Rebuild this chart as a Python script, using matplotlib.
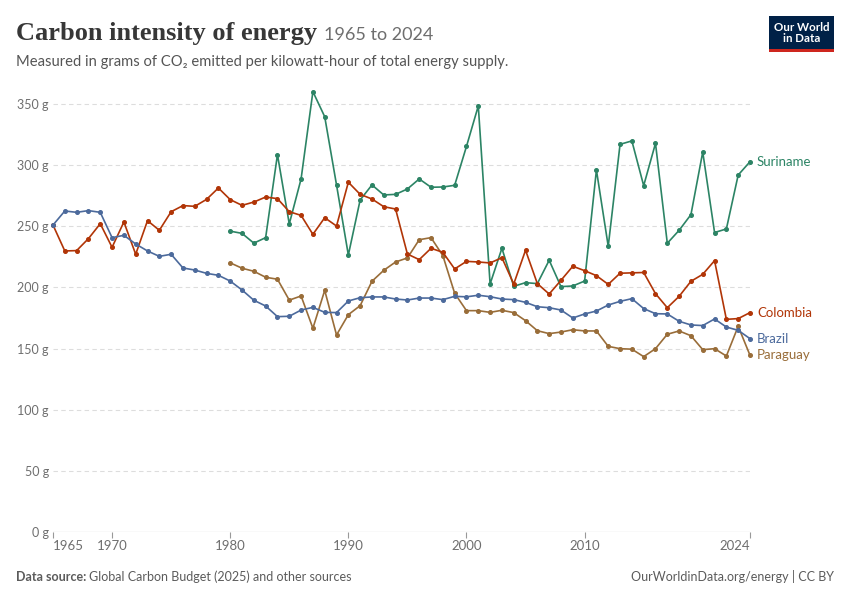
import numpy as np
import matplotlib.pyplot as plt
from matplotlib.patches import Rectangle

plt.rcParams['font.family'] = ['Lato', 'DejaVu Sans']

years_long = np.arange(1965, 2025)
years_short = np.arange(1980, 2025)

brazil = [251.0, 262.5, 261.4, 262.8, 261.4, 240.7, 242.6, 235.5, 229.8, 225.4,
          227.1, 215.9, 214.2, 211.5, 209.9, 205.2, 197.9, 189.5, 184.8, 176.1,
          176.4, 181.5, 183.7, 179.6, 179.4, 188.9, 191.6, 192.2, 192.2, 190.5,
          189.7, 191.3, 191.3, 190.0, 192.7, 192.3, 193.6, 192.4, 190.5, 190.0,
          187.8, 184.2, 183.4, 181.5, 175.0, 178.3, 180.7, 185.6, 188.6, 190.8,
          182.7, 178.5, 178.3, 172.3, 169.3, 168.8, 174.2, 167.6, 164.9, 158.1]

colombia = [251.0, 229.8, 230.1, 239.9, 252.1, 232.8, 253.5, 227.1, 254.6, 246.7,
            261.9, 266.9, 266.3, 272.0, 281.3, 271.8, 267.1, 269.8, 273.9, 272.6,
            261.9, 258.9, 243.4, 257.0, 250.2, 286.0, 276.1, 272.3, 266.0, 264.1,
            227.3, 222.7, 232.0, 228.7, 215.1, 221.3, 220.8, 220.0, 224.3, 202.8,
            230.4, 203.1, 194.6, 205.8, 217.3, 213.7, 209.6, 202.5, 211.6, 211.9,
            212.2, 194.9, 183.4, 192.7, 205.0, 210.7, 221.9, 173.9, 174.5, 179.4]

suriname = [246.0, 244.2, 236.2, 240.7, 308.6, 251.9, 288.7, 360.1, 339.6, 283.8,
            226.5, 271.5, 283.8, 275.6, 276.1, 280.5, 288.7, 281.9, 282.1, 283.5,
            315.3, 348.4, 202.8, 232.0, 200.9, 203.9, 203.1, 222.2, 200.6, 201.2,
            205.2, 296.0, 233.6, 317.0, 319.8, 283.2, 317.8, 236.1, 246.7, 259.5,
            310.7, 244.9, 247.8, 291.9, 302.8]

paraguay = [220.1, 215.7, 213.2, 208.3, 206.7, 189.6, 193.0, 166.6, 197.6, 161.1,
            177.7, 185.1, 205.0, 214.0, 220.8, 224.1, 239.0, 240.7, 226.0, 195.2,
            181.0, 181.0, 179.6, 181.3, 179.4, 172.8, 164.6, 162.2, 163.5, 165.4,
            164.4, 164.4, 151.8, 149.9, 149.5, 143.4, 149.9, 161.7, 164.4, 160.5,
            149.1, 149.9, 143.9, 168.2, 144.5]

series = [
    ("Suriname", years_short, suriname, "#2C8465"),
    ("Paraguay", years_short, paraguay, "#996D39"),
    ("Colombia", years_long, colombia, "#B13507"),
    ("Brazil", years_long, brazil, "#4C6A9C"),
]

x_ticks = [1965, 1970, 1980, 1990, 2000, 2010, 2024]
y_ticks = [0, 50, 100, 150, 200, 250, 300, 350]

W, H = 850, 600
fig = plt.figure(figsize=(8.5, 6), dpi=100)
ymax = 362
ax = fig.add_axes([53 / W, (H - 532) / H, 697 / W, (532 - 89.3) / H])
ax.set_xlim(1965, 2024)
ax.set_ylim(0, ymax)

for name, xs, ys, col in series:
    ax.plot(xs, ys, color=col, lw=1.2, marker='o', ms=2.6, clip_on=False, zorder=3)

for v in y_ticks[1:]:
    ax.axhline(v, color='#dddddd', lw=0.8, ls=(0, (4, 3)), zorder=1)
ax.axhline(0, color='#999999', lw=0.8, zorder=2)

for s in ax.spines.values():
    s.set_visible(False)
ax.set_yticks(y_ticks)
ax.set_yticklabels([f"{v} g" for v in y_ticks])
ax.tick_params(axis='y', length=0, pad=3, labelsize=9, labelcolor='#6e6e6e')
ax.set_xticks(x_ticks)
ax.set_xticklabels([str(t) for t in x_ticks])
ax.tick_params(axis='x', length=4, width=0.8, color='#999999', pad=2,
               labelsize=9.5, labelcolor='#6e6e6e')
xl = ax.get_xticklabels()
xl[0].set_ha('left')
xl[-1].set_ha('right')

# end labels
end_pos = {"Suriname": 302.8, "Colombia": 179.4, "Brazil": 158.0, "Paraguay": 144.5}
for name, xs, ys, col in series:
    ax.annotate(name, xy=(2024, end_pos[name]), xytext=(5, 0), textcoords='offset points',
                color=col, fontsize=9.5, va='center', ha='left', annotation_clip=False)

# title
t1 = fig.text(16 / W, 1 - 40 / H, "Carbon intensity of energy", fontsize=19,
              fontweight='bold', color='#373737', family=['Liberation Serif', 'DejaVu Serif'])
fig.canvas.draw()
bb = t1.get_window_extent()
fig.text((bb.x1 + 7) / W, 1 - 40 / H, "1965 to 2024", fontsize=13, color='#6e6e6e')
fig.text(16 / W, 1 - 66 / H,
         "Measured in grams of CO\u2082 emitted per kilowatt-hour of total energy supply.",
         fontsize=10.65, color='#555555')

# logo
fig.patches.append(Rectangle((769 / W, 1 - 52 / H), 65 / W, 36 / H, transform=fig.transFigure,
                             facecolor='#002147', edgecolor='none'))
fig.patches.append(Rectangle((769 / W, 1 - 52 / H), 65 / W, 3 / H, transform=fig.transFigure,
                             facecolor='#CE261E', edgecolor='none'))
fig.text(801.5 / W, 1 - 33 / H, "Our World\nin Data", ha='center', va='center',
         fontsize=8.3, color='white', linespacing=1.0, fontweight='bold')

# footer
f1 = fig.text(16 / W, 1 - 581 / H, "Data source:", fontsize=9, fontweight='bold', color='#5b5b5b')
fig.canvas.draw()
bb = f1.get_window_extent()
fig.text((bb.x1 + 3) / W, 1 - 581 / H, "Global Carbon Budget (2025) and other sources",
         fontsize=9, color='#5b5b5b')
fig.text(834 / W, 1 - 581 / H, "OurWorldinData.org/energy | CC BY", fontsize=9,
         color='#5b5b5b', ha='right')

fig.savefig("out.png", dpi=100, facecolor='white')
